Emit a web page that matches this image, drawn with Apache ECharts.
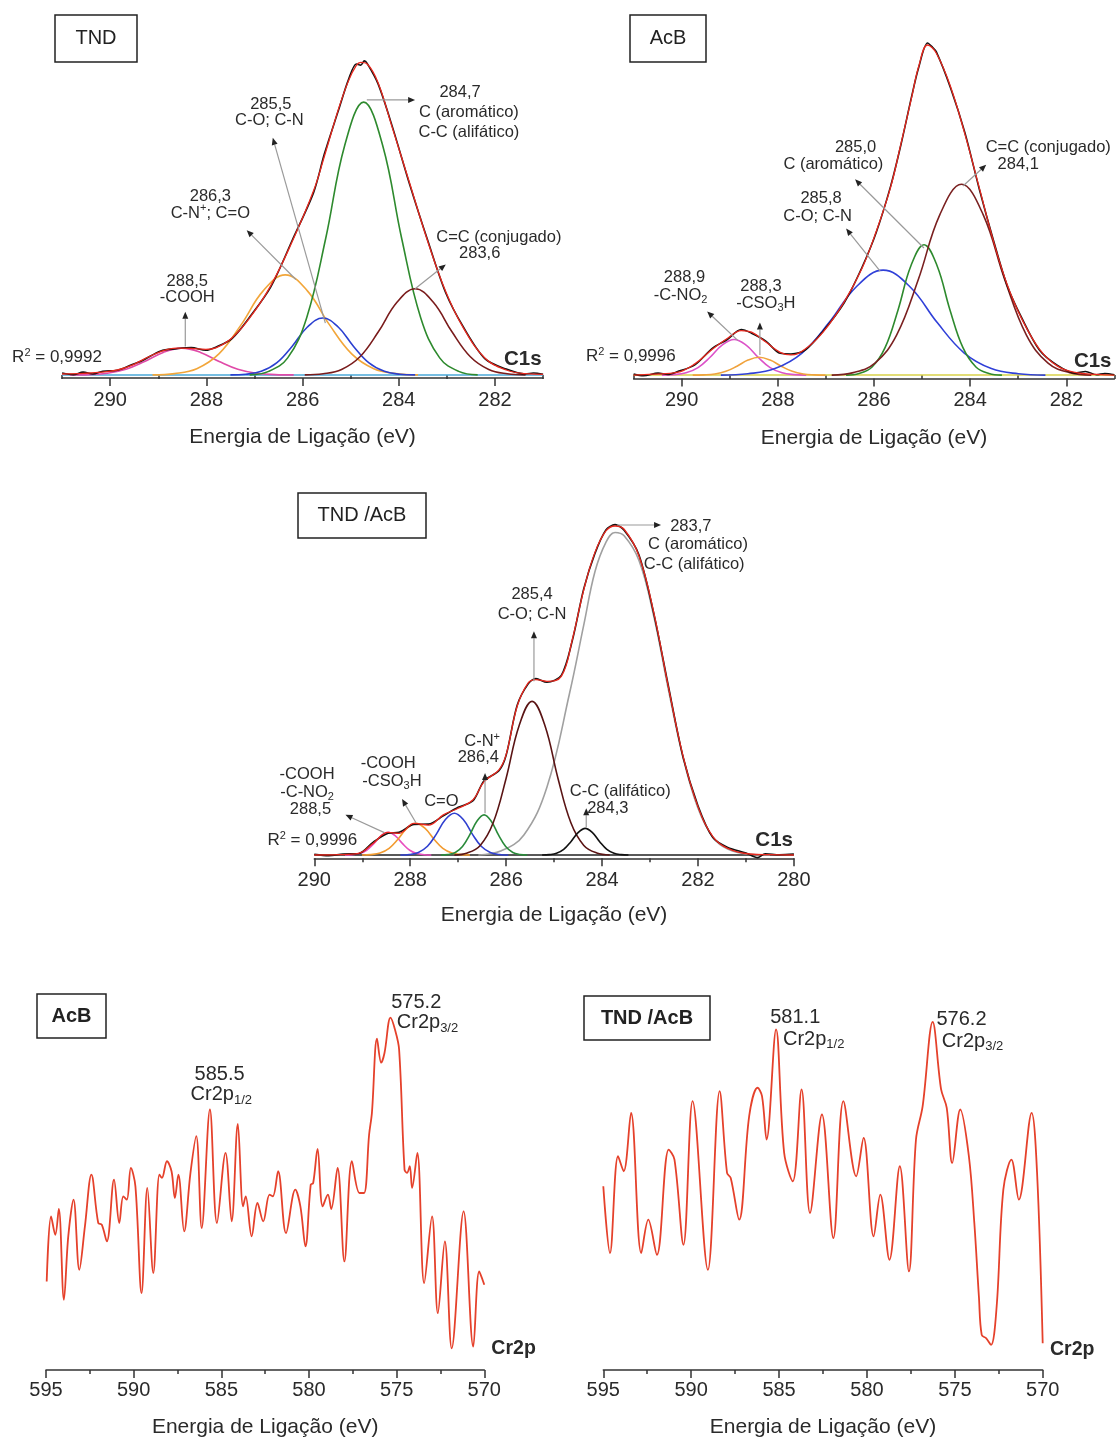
<!DOCTYPE html>
<html><head><meta charset="utf-8">
<script src="https://cdn.jsdelivr.net/npm/echarts@6/dist/echarts.min.js"></script>
<style>html,body{margin:0;padding:0;background:#fff}#c{width:1117px;height:1439px}</style>
</head><body><div id="c"></div>
<script>
// ---------------- DATA ----------------
// Panel 1: TND C1s  [binding energy eV, intensity]
const tndPink = [[290.835,0],[290.4475,0.11],[290.06,0.54],[289.6725,1.83],[289.285,4.35],[288.8975,7.32],[288.51,8.7],[288.1225,7.32],[287.735,4.35],[287.3475,1.83],[286.96,0.54],[286.5725,0.11],[286.185,0]];
const tndOrange = [[289.12,0],[288.66,0.42],[288.2,2.03],[287.74,6.83],[287.28,16.25],[286.82,27.3],[286.36,32.5],[285.9,27.3],[285.44,16.25],[284.98,6.83],[284.52,2.03],[284.06,0.42],[283.6,0]];
const tndBlue = [[287.5,0],[287.18,0.24],[286.86,1.16],[286.54,3.89],[286.22,9.25],[285.9,15.56],[285.58,18.5],[285.26,15.56],[284.94,9.25],[284.62,3.89],[284.3,1.16],[283.98,0.24],[283.66,0]];
const tndGreen = [[287.1,0],[286.705,1.15],[286.31,5.54],[285.915,18.6],[285.52,44.3],[285.125,74.5],[284.73,88.6],[284.335,74.5],[283.94,44.3],[283.545,18.6],[283.15,5.54],[282.755,1.15],[282.36,0]];
const tndMaroon = [[285.955,0],[285.5725,0.36],[285.19,1.75],[284.8075,5.88],[284.425,14],[284.0425,23.5],[283.66,28],[283.2775,23.5],[282.895,14],[282.5125,5.88],[282.13,1.75],[281.7475,0.36],[281.365,0]];
const tndFit = [[291,0.3],[290.564,0.5],[290.155,0.9],[289.849,1.6],[289.542,3.2],[289.328,4.9],[288.95,7.6],[288.623,8.7],[288.316,8.6],[288.01,8.3],[287.805,8.8],[287.468,12],[287.1,18.5],[286.661,29],[286.211,43.5],[285.772,59.8],[285.547,71],[285.251,86.5],[285.046,95.5],[284.883,100.5],[284.791,101.5],[284.658,101],[284.433,95],[284.137,80.4],[283.769,62],[283.401,43.5],[283.023,27],[282.655,15.2],[282.206,5.4],[281.766,1.6],[281.368,0.4],[281,0.2]];
const tndExp = [[291,0.6],[290.768,0.1],[290.564,0.9],[290.359,0.3],[290.155,1.2],[289.849,1.5],[289.542,3.4],[289.328,4.7],[288.95,7.8],[288.623,8.5],[288.316,8.9],[288.01,8.0],[287.805,9.0],[287.468,11.8],[287.1,18.8],[286.661,28.6],[286.211,43.9],[285.772,59.2],[285.547,71.8],[285.251,86.1],[285.046,95.9],[284.883,101],[284.791,100.6],[284.716,102],[284.658,101.2],[284.433,94.6],[284.137,80.8],[283.769,61.6],[283.401,43.8],[283.023,26.6],[282.655,15.5],[282.206,5.2],[281.766,1.9],[281.368,0.3],[281.2,0.6],[281,0.2]];
const tndBase = [[291,0],[281,0]];

// Panel 2: AcB C1s
const acbPink = [[290.41,0],[290.16,0.14],[289.91,0.68],[289.66,2.27],[289.41,5.4],[289.16,9.08],[288.91,10.8],[288.66,9.08],[288.41,5.4],[288.16,2.27],[287.91,0.68],[287.66,0.14],[287.41,0]];
const acbOrange = [[289.77,0],[289.54,0.07],[289.31,0.34],[289.08,1.13],[288.85,2.7],[288.62,4.54],[288.39,5.4],[288.16,4.54],[287.93,2.7],[287.7,1.13],[287.47,0.34],[287.24,0.07],[287.01,0]];
const acbBlue = [[289.185,0],[288.6225,0.41],[288.06,1.99],[287.4975,6.68],[286.935,15.9],[286.3725,26.7],[285.81,31.8],[285.2475,26.7],[284.685,15.9],[284.1225,6.68],[283.56,1.99],[282.9975,0.41],[282.435,0]];
const acbGreen = [[286.58,0],[286.31,0.51],[286.04,2.47],[285.77,8.3],[285.5,19.75],[285.23,33.2],[284.96,39.5],[284.69,33.2],[284.42,19.75],[284.15,8.3],[283.88,2.47],[283.61,0.51],[283.34,0]];
const acbMaroon = [[286.88,0],[286.43,0.75],[285.98,3.61],[285.53,12.1],[285.08,28.9],[284.63,48.6],[284.18,57.8],[283.73,48.6],[283.28,28.9],[282.83,12.1],[282.38,3.61],[281.93,0.75],[281.48,0]];
const acbFit = [[291,0],[290.597,0.3],[290.095,0.8],[289.726,3.4],[289.357,7.9],[289.06,11],[288.762,13.5],[288.547,13],[288.25,10],[287.952,6.9],[287.727,6.1],[287.43,7.9],[287.06,13],[286.62,22.2],[286.251,32.3],[285.954,43.5],[285.657,56.8],[285.441,70],[285.216,84.2],[285.072,93.4],[284.887,100],[284.703,97.5],[284.406,87.3],[284.109,73],[283.811,56.8],[283.514,40.5],[283.227,27.3],[282.929,17.1],[282.56,7.9],[282.191,2.8],[281.822,0.8],[281.371,0.2],[281,0]];
const acbExp = [[291,0.3],[290.797,-0.2],[290.49,0.6],[290.29,0.2],[290.095,1.0],[289.726,3.1],[289.357,8.2],[289.06,10.7],[288.762,13.8],[288.547,12.7],[288.25,10.3],[287.952,6.6],[287.727,6.4],[287.43,7.6],[287.06,13.3],[286.62,21.9],[286.251,32.6],[285.954,43.2],[285.657,57.1],[285.441,69.7],[285.216,84.5],[285.072,93.1],[284.887,100.6],[284.795,99.5],[284.703,97.9],[284.406,86.9],[284.109,73.4],[283.811,56.4],[283.514,40.8],[283.227,27],[282.929,17.4],[282.56,7.6],[282.191,3.0],[281.822,0.6],[281.6,1.1],[281.371,0.1],[281.2,0.5],[281,0.1]];
const acbBase = [[291,0],[281,0]];

// Panel 3: TND/AcB C1s
const mixPink = [[289.36,0],[289.21,0.09],[289.06,0.43],[288.91,1.45],[288.76,3.45],[288.61,5.8],[288.46,6.9],[288.31,5.8],[288.16,3.45],[288.01,1.45],[287.86,0.43],[287.71,0.09],[287.56,0]];
const mixOrange = [[289.005,0],[288.82,0.12],[288.63,0.6],[288.44,2.02],[288.255,4.8],[288.07,8.07],[287.88,9.6],[287.69,8.07],[287.505,4.8],[287.32,2.02],[287.13,0.6],[286.94,0.12],[286.755,0]];
const mixBlue = [[288.205,0],[288.02,0.17],[287.83,0.79],[287.64,2.67],[287.455,6.35],[287.27,10.7],[287.08,12.7],[286.89,10.7],[286.705,6.35],[286.52,2.67],[286.33,0.79],[286.14,0.17],[285.955,0]];
const mixGreen = [[287.36,0],[287.21,0.16],[287.06,0.76],[286.91,2.56],[286.76,6.1],[286.61,10.26],[286.46,12.2],[286.31,10.26],[286.16,6.1],[286.01,2.56],[285.86,0.76],[285.71,0.16],[285.56,0]];
const mixMaroon = [[287.08,0],[286.81,0.61],[286.54,2.92],[286.27,9.8],[286.0,23.35],[285.73,39.3],[285.46,46.7],[285.19,39.3],[284.92,23.35],[284.65,9.8],[284.38,2.92],[284.11,0.61],[283.84,0]];
const mixBlack = [[285.25,0],[285.1,0.11],[284.95,0.51],[284.8,1.7],[284.65,4.05],[284.5,6.81],[284.35,8.1],[284.2,6.81],[284.05,4.05],[283.9,1.7],[283.75,0.51],[283.6,0.11],[283.45,0]];
const mixGray = [[286.58,0],[286.1,1.3],[285.63,6.1],[285.15,20.6],[284.68,49],[284.38,70],[284.15,86],[283.92,95],[283.73,98],[283.54,97],[283.23,89.5],[282.92,72.5],[282.62,50.5],[282.31,29.5],[282.0,14.2],[281.69,5.4],[281.38,1.8],[280.92,0.2],[280.5,0]];
const mixFit = [[290,0],[289.5,0.1],[289.08,0.5],[288.77,3.6],[288.46,6.9],[288.23,6.6],[287.92,9.6],[287.62,9.1],[287.31,12.2],[287.0,14.2],[286.69,16.8],[286.46,22.3],[286.15,25.9],[286.0,30.5],[285.77,45.2],[285.54,52.3],[285.38,53.3],[285.15,52.8],[284.85,54.3],[284.62,65.5],[284.38,80.7],[284.15,91.9],[283.92,98.5],[283.73,100],[283.54,99],[283.23,90.9],[282.92,73.6],[282.62,51.3],[282.31,30],[282.0,14.7],[281.69,5.6],[281.38,2],[280.92,0.3],[280.5,0.1],[280,0]];
const mixExp = [[290,0.2],[289.7,-0.2],[289.4,0.3],[289.08,0.4],[288.77,3.9],[288.46,6.6],[288.23,6.9],[287.92,9.3],[287.62,9.4],[287.31,11.9],[287.0,14.5],[286.69,16.5],[286.46,22.6],[286.15,25.6],[286.0,30.3],[285.77,45.5],[285.54,52.0],[285.38,53.6],[285.15,52.5],[284.85,54.6],[284.62,65.2],[284.38,81],[284.15,91.6],[283.92,98.8],[283.73,100.4],[283.54,98.7],[283.23,91.2],[282.92,73.3],[282.62,51.6],[282.31,29.7],[282.0,15],[281.69,5.3],[281.38,2.3],[281.0,0.6],[280.75,-0.8],[280.6,0.4],[280.3,0.1],[280,0.3]];
const mixBase = [[290,0],[280,0]];

// Panel 4: AcB Cr2p
const acbCr = [[594.96,26.5],[594.71,46],[594.47,40.5],[594.27,48.2],[593.98,21],[593.73,40],[593.43,51],[593.1,30],[592.78,43],[592.41,58.5],[592.02,44],[591.82,43.5],[591.53,38.5],[591.12,57],[590.82,44],[590.59,52],[590.39,51],[590.16,60.5],[589.9,55],[589.55,23],[589.22,54.5],[588.88,29],[588.53,58.5],[588.39,57.5],[588.1,62.5],[587.84,59.5],[587.65,51.5],[587.45,58.5],[587.12,41.5],[586.76,59],[586.43,70],[586.12,42.5],[585.65,78],[585.25,44],[584.76,65],[584.41,44.5],[584.06,73.7],[583.76,49],[583.61,52],[583.27,40],[582.94,50],[582.61,44.5],[582.25,52.5],[582.06,52],[581.76,59.5],[581.31,41],[580.78,54],[580.49,49],[580.2,37],[579.9,55.5],[579.76,56],[579.51,66.2],[579.22,49],[578.92,52.5],[578.73,48.2],[578.37,60.5],[577.98,32.5],[577.55,62.5],[577.12,53],[576.86,53],[576.57,70.5],[576.41,77],[576.12,99.2],[575.88,92],[575.69,95],[575.35,105.5],[575.1,102],[574.86,96],[574.55,60],[574.41,59],[574.25,61],[574.12,54.5],[573.82,65],[573.43,26],[572.98,46],[572.65,17],[572.25,38.5],[571.86,6.5],[571.18,47.5],[570.63,7],[570.29,29.5],[570.0,25.5]];

// Panel 5: TND/AcB Cr2p
const mixCr = [[595.0,55],[594.62,35],[594.16,64],[593.84,59.5],[593.42,77],[592.84,35],[592.44,45],[591.95,34.5],[591.28,66],[590.95,63],[590.44,37.5],[589.92,80.5],[589.05,30],[588.38,83.5],[587.96,59],[587.75,57.5],[587.27,45],[586.7,76],[586.22,84.5],[585.97,82],[585.71,69],[585.17,102],[584.71,65],[584.22,56.5],[583.72,84],[583.24,47],[582.56,76.5],[581.91,39.5],[581.34,80.5],[580.61,58],[580.19,69.5],[579.62,40],[579.24,52.5],[578.72,33],[578.13,61],[577.61,29.5],[577.21,69],[576.83,79],[576.26,104.2],[575.78,84],[575.46,78.5],[575.15,62],[574.69,78],[574.2,64],[573.89,44],[573.63,22],[573.47,10.5],[573.21,9.5],[572.94,7.5],[572.62,19],[572.24,54],[571.78,63],[571.36,51],[570.63,77],[570.32,59],[570.0,8]];

// tick values
const c1sTicks12 = [282,284,286,288,290];
const c1sMinor12 = [281,283,285,287,289,291];

// ---------------- CHART ----------------
const FONT = '"Liberation Sans", Arial, Helvetica, sans-serif';
const TXT = '#2a2a2a';
const chart = echarts.init(document.getElementById('c'), null, {renderer:'canvas'});

const grids = [
  {left:62.1, top:54.7, width:481, height:323.3},
  {left:633.6, top:38.4, width:480.8, height:340},
  {left:314.3, top:519.4, width:479.6, height:338.9},
  {left:46, top:1002.6, width:438.3, height:367.4},
  {left:603.3, top:1002.6, width:439.4, height:367.4}
];
const axisLine = {show:true, onZero:false, lineStyle:{color:'#333', width:1.5}};
const nameStyle = {fontSize:21, color:TXT, fontFamily:FONT};
const lab = (m) => ({fontSize:20, color:TXT, fontFamily:FONT, margin:m});
const NAME = 'Energia de Ligação (eV)';
const tickStyle = {color:'#333', width:1.5};

function c1sTopAxes(g) {
  return [
    {gridIndex:g, type:'value', inverse:true, min:281, max:291, position:'bottom', axisLine,
     axisTick:{show:true, length:8, customValues:c1sTicks12, lineStyle:tickStyle},
     axisLabel:Object.assign(lab(12), {customValues:c1sTicks12}), splitLine:{show:false},
     name:NAME, nameLocation:'middle', nameGap:49, nameTextStyle:nameStyle},
    {gridIndex:g, type:'value', inverse:true, min:281, max:291, position:'bottom', axisLine:{show:false},
     axisTick:{show:true, length:4, customValues:c1sMinor12, lineStyle:tickStyle},
     axisLabel:{show:false}, splitLine:{show:false}}
  ];
}
function intervalAxis(g, min, max, iv, margin, gap) {
  return {gridIndex:g, type:'value', inverse:true, min, max, interval:iv, position:'bottom', axisLine,
    axisTick:{show:true, length:8, lineStyle:tickStyle},
    minorTick:{show:true, splitNumber:2, length:4, lineStyle:tickStyle},
    axisLabel:lab(margin), splitLine:{show:false}, minorSplitLine:{show:false},
    name:NAME, nameLocation:'middle', nameGap:gap, nameTextStyle:nameStyle};
}
const xAxes = [].concat(c1sTopAxes(0), c1sTopAxes(1), [
  intervalAxis(2, 280, 290, 2, 12, 46),
  intervalAxis(3, 570, 595, 5, 10, 47),
  intervalAxis(4, 570, 595, 5, 10, 47)
]);
const yAxes = [
  {gridIndex:0, type:'value', min:-1, max:104, show:false},
  {gridIndex:1, type:'value', min:-1, max:102, show:false},
  {gridIndex:2, type:'value', min:-1, max:102, show:false},
  {gridIndex:3, type:'value', min:0, max:110, show:false},
  {gridIndex:4, type:'value', min:0, max:110, show:false}
];

const series = [];
function add(name, data, xi, yi, color, width, smooth) {
  series.push({name, type:'line', data, xAxisIndex:xi, yAxisIndex:yi, showSymbol:false, symbol:'none',
    smooth: smooth === undefined ? 0.4 : smooth, lineStyle:{color, width}, silent:true, animation:false});
  return series.length - 1;
}
// Panel 1
add('tndBase', tndBase, 0, 0, '#4aa8d8', 1.5, false);
add('tndPink', tndPink, 0, 0, '#e04aa8', 1.6);
add('tndOrange', tndOrange, 0, 0, '#f2a63a', 1.6);
add('tndBlue', tndBlue, 0, 0, '#2a3fd0', 1.6);
add('tndGreen', tndGreen, 0, 0, '#2e8a2e', 1.6);
add('tndMaroon', tndMaroon, 0, 0, '#7a1c1c', 1.6);
add('tndExp', tndExp, 0, 0, '#111', 1.6, 0.3);
const sP1 = add('tndFit', tndFit, 0, 0, '#e8281e', 1.3, 0.4);
// Panel 2
add('acbBase', acbBase, 2, 1, '#d8d24a', 1.5, false);
add('acbPink', acbPink, 2, 1, '#dc52c8', 1.6);
add('acbOrange', acbOrange, 2, 1, '#f0a23c', 1.6);
add('acbBlue', acbBlue, 2, 1, '#3040d8', 1.6);
add('acbGreen', acbGreen, 2, 1, '#2e8a2e', 1.6);
add('acbMaroon', acbMaroon, 2, 1, '#7a2020', 1.6);
add('acbExp', acbExp, 2, 1, '#111', 1.6, 0.3);
const sP2 = add('acbFit', acbFit, 2, 1, '#e8281e', 1.3, 0.4);
// Panel 3
add('mixBase', mixBase, 4, 2, '#222', 1.5, false);
add('mixGray', mixGray, 4, 2, '#a0a0a0', 1.6);
add('mixPink', mixPink, 4, 2, '#e84fbf', 1.6);
add('mixOrange', mixOrange, 4, 2, '#f29b30', 1.6);
add('mixBlue', mixBlue, 4, 2, '#3040d0', 1.6);
add('mixGreen', mixGreen, 4, 2, '#2a8a3a', 1.6);
add('mixMaroon', mixMaroon, 4, 2, '#5a1414', 1.6);
add('mixBlack', mixBlack, 4, 2, '#111', 1.6);
add('mixExp', mixExp, 4, 2, '#111', 1.6, 0.3);
const sP3 = add('mixFit', mixFit, 4, 2, '#e8281e', 1.3, 0.4);
// Panel 4, 5
const sP4 = add('acbCr', acbCr, 5, 3, '#e5412b', 1.8, 0.35);
const sP5 = add('mixCr', mixCr, 6, 4, '#e5412b', 1.8, 0.35);

chart.setOption({
  animation:false, backgroundColor:'#fff',
  grid:grids, xAxis:xAxes, yAxis:yAxes, series
});

// ---------------- ANNOTATIONS ----------------
function richFor(fs, fw) {
  return {
    n:{fontSize:fs, fontFamily:FONT, fill:TXT, fontWeight:fw||'normal'},
    sub:{fontSize:Math.round(fs*0.65), fontFamily:FONT, fill:TXT, padding:[Math.round(fs*0.55),0,0,0]},
    sup:{fontSize:Math.round(fs*0.65), fontFamily:FONT, fill:TXT, padding:[0,0,Math.round(fs*0.55),0]}
  };
}
const C1 = 16.5, CR = 20, LB = 20.5;
// [series, text, eV, value, fontSize, weight, align]
const texts = [
  [sP1,'{n|285,5}',286.661,88,C1],
  [sP1,'{n|C-O; C-N}',286.691,82.8,C1],
  [sP1,'{n|286,3}',287.918,58,C1],
  [sP1,'{n|C-N}{sup|+}{n|; C=O}',287.918,52.6,C1],
  [sP1,'{n|288,5}',288.398,30.2,C1],
  [sP1,'{n|-COOH}',288.398,25,C1],
  [sP1,'{n|284,7}',282.727,91.6,C1],
  [sP1,'{n|C (aromático)}',282.543,85.2,C1],
  [sP1,'{n|C-C (alifático)}',282.543,78.8,C1],
  [sP1,'{n|C=C (conjugado)}',281.92,44.5,C1],
  [sP1,'{n|283,6}',282.318,39.3,C1],
  [sP1,'{n|R}{sup|2}{n| = 0,9992}',291.106,5.8,17],
  [sP1,'{n|C1s}',281.03,5.2,LB,'bold','right'],

  [sP2,'{n|285,0}',286.384,69,C1],
  [sP2,'{n|C (aromático)}',286.845,63.9,C1],
  [sP2,'{n|285,8}',287.101,53.5,C1],
  [sP2,'{n|C-O; C-N}',287.173,48.1,C1],
  [sP2,'{n|C=C (conjugado)}',282.376,69,C1],
  [sP2,'{n|284,1}',283.001,63.9,C1],
  [sP2,'{n|288,9}',289.941,29.5,C1],
  [sP2,'{n|-C-NO}{sub|2}',290.023,24.2,C1],
  [sP2,'{n|288,3}',288.352,27,C1],
  [sP2,'{n|-CSO}{sub|3}{n|H}',288.25,21.7,C1],
  [sP2,'{n|R}{sup|2}{n| = 0,9996}',291.058,5.7,17],
  [sP2,'{n|C1s}',281.06,4.3,LB,'bold','right'],

  [sP3,'{n|283,7}',282.15,100,C1],
  [sP3,'{n|C (aromático)}',282.0,94.4,C1],
  [sP3,'{n|C-C (alifático)}',282.08,88.3,C1],
  [sP3,'{n|285,4}',285.46,79.2,C1],
  [sP3,'{n|C-O; C-N}',285.46,73.1,C1],
  [sP3,'{n|C-N}{sup|+}',286.5,34.5,C1],
  [sP3,'{n|286,4}',286.58,29.7,C1],
  [sP3,'{n|-COOH}',290.15,24.4,C1],
  [sP3,'{n|-C-NO}{sub|2}',290.15,19,C1],
  [sP3,'{n|288,5}',290.08,13.7,C1],
  [sP3,'{n|-COOH}',288.46,27.9,C1],
  [sP3,'{n|-CSO}{sub|3}{n|H}',288.38,22.3,C1],
  [sP3,'{n|C=O}',287.35,16.2,C1],
  [sP3,'{n|C-C (alifático)}',283.62,19.3,C1],
  [sP3,'{n|284,3}',283.88,14.2,C1],
  [sP3,'{n|R}{sup|2}{n| = 0,9996}',290.04,4.4,17],
  [sP3,'{n|C1s}',280.02,4.6,LB,'bold','right'],

  [sP4,'{n|585.5}',585.1,88.5,CR],
  [sP4,'{n|Cr2p}{sub|1/2}',585.0,82.5,CR],
  [sP4,'{n|575.2}',573.88,110,CR],
  [sP4,'{n|Cr2p}{sub|3/2}',573.24,104,CR],
  [sP4,'{n|Cr2p}',568.33,6.5,19.5,'bold'],

  [sP5,'{n|581.1}',584.08,105.5,CR],
  [sP5,'{n|Cr2p}{sub|1/2}',583.03,99,CR],
  [sP5,'{n|576.2}',574.62,105,CR],
  [sP5,'{n|Cr2p}{sub|3/2}',573.99,98.5,CR],
  [sP5,'{n|Cr2p}',568.32,6,19.5,'bold']
];
// [series, tail eV, tail val, head eV, head val]
const arrows = [
  [sP1,285.527,16.8,286.62,77],
  [sP1,286.14,31,287.162,47],
  [sP1,288.439,9.2,288.439,20.5],
  [sP1,284.665,89.3,283.661,89.3],
  [sP1,283.661,28,283.023,35.9],
  [sP2,284.961,38.5,286.394,59.3],
  [sP2,285.873,31.5,286.58,44.4],
  [sP2,284.149,57.3,283.667,63.7],
  [sP2,288.834,10.5,289.47,19.3],
  [sP2,288.373,6.1,288.373,15.9],
  [sP3,283.69,100.3,282.77,100.3],
  [sP3,285.42,52.8,285.42,68],
  [sP3,286.44,12.7,286.44,24.9],
  [sP3,288.54,6.8,289.35,12.2],
  [sP3,287.88,9.8,288.17,17],
  [sP3,284.33,8.4,284.33,14.2]
];
// title boxes (pixel layout): [x, y, w, h, text, bold]
const boxes = [
  [55,15,82,47,'TND',false],
  [630,15,76,47,'AcB',false],
  [298,493,128,45,'TND /AcB',false],
  [37,994,69,44,'AcB',true],
  [584,996,126,44,'TND /AcB',true]
];

const g = [];
texts.forEach(t => {
  const p = chart.convertToPixel({seriesIndex:t[0]}, [t[2], t[3]]);
  g.push({type:'text', x:p[0], y:p[1], silent:true, z:100,
    style:{text:t[1], align:t[6]||'center', verticalAlign:'middle', rich:richFor(t[4], t[5]),
      fontSize:t[4], fontFamily:FONT, fill:TXT}});
});
arrows.forEach(a => {
  const p1 = chart.convertToPixel({seriesIndex:a[0]}, [a[1], a[2]]);
  const p2 = chart.convertToPixel({seriesIndex:a[0]}, [a[3], a[4]]);
  const dx = p2[0]-p1[0], dy = p2[1]-p1[1], L = Math.hypot(dx, dy);
  const ux = dx/L, uy = dy/L, hl = 7, hw = 3;
  const bx = p2[0]-ux*hl, by = p2[1]-uy*hl;
  g.push({type:'line', silent:true, z:90, shape:{x1:p1[0], y1:p1[1], x2:bx, y2:by}, style:{stroke:'#9a9a9a', lineWidth:1.2}});
  g.push({type:'polygon', silent:true, z:91, shape:{points:[[p2[0],p2[1]],[bx-uy*hw,by+ux*hw],[bx+uy*hw,by-ux*hw]]}, style:{fill:'#222'}});
});
boxes.forEach(b => {
  g.push({type:'rect', silent:true, z:100, shape:{x:b[0], y:b[1], width:b[2], height:b[3]}, style:{fill:'#fff', stroke:'#222', lineWidth:1.5}});
  g.push({type:'text', silent:true, z:101, x:b[0]+b[2]/2, y:b[1]+b[3]/2,
    style:{text:b[4], align:'center', verticalAlign:'middle', fontSize:20, fontFamily:FONT, fontWeight:b[5]?'bold':'normal', fill:'#222'}});
});
chart.setOption({graphic:g});
</script></body></html>
